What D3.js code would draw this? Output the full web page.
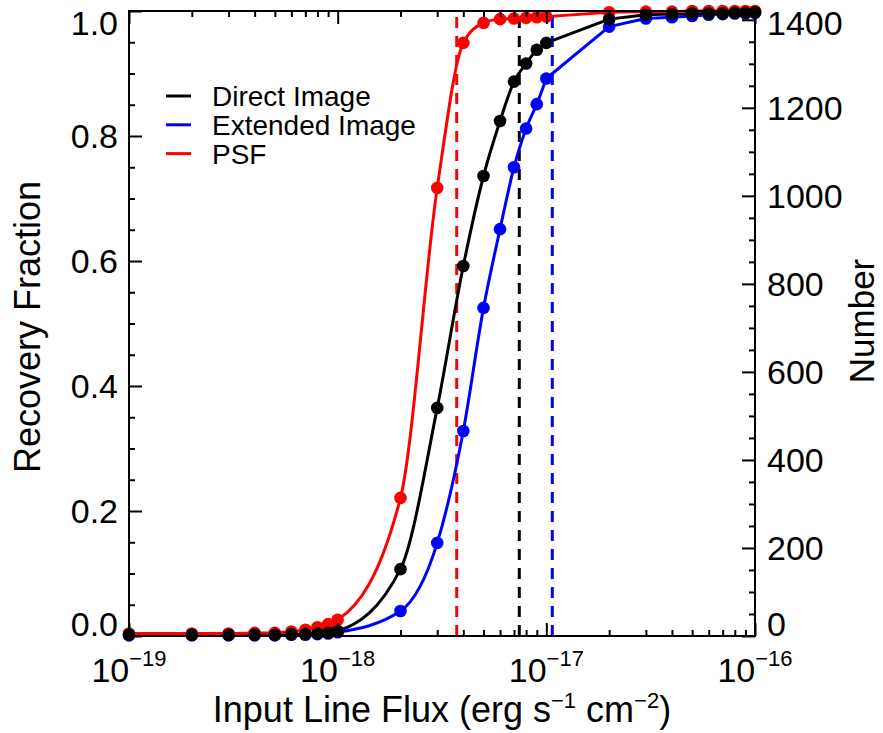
<!DOCTYPE html>
<html>
<head>
<meta charset="utf-8">
<script src="https://cdn.jsdelivr.net/npm/d3@7"></script>
<style>
	body { margin: 0; background: #fff; }
	svg { display: block; }
	text { font-family: "Liberation Sans", Arial, Helvetica, sans-serif; fill: #000; }
</style>
</head>
<body>
<svg id="chart" width="883" height="733"></svg>
<script>
	////////// Data //////////
	const fluxes = [
		1e-19, 2e-19, 3e-19, 4e-19, 5e-19, 6e-19, 7e-19, 8e-19, 9e-19,
		1e-18, 2e-18, 3e-18, 4e-18, 5e-18, 6e-18, 7e-18, 8e-18, 9e-18,
		1e-17, 2e-17, 3e-17, 4e-17, 5e-17, 6e-17, 7e-17, 8e-17, 9e-17,
		1e-16
	];
	const directImage = [
		0.002, 0.002, 0.002, 0.002, 0.002, 0.003, 0.003, 0.004, 0.005,
		0.008, 0.107, 0.365, 0.592, 0.736, 0.824, 0.887, 0.916, 0.938,
		0.949, 0.987, 0.994, 0.995, 0.996, 0.996, 0.996, 0.997, 0.997,
		0.998
	];
	const extendedImage = [
		0.001, 0.001, 0.001, 0.001, 0.001, 0.002, 0.002, 0.003, 0.004,
		0.006, 0.040, 0.149, 0.328, 0.525, 0.651, 0.750, 0.812, 0.851,
		0.892, 0.975, 0.988, 0.990, 0.992, 0.994, 0.995, 0.996, 0.996,
		0.997
	];
	const psf = [
		0.004, 0.004, 0.004, 0.005, 0.005, 0.007, 0.010, 0.014, 0.019,
		0.026, 0.221, 0.717, 0.949, 0.981, 0.987, 0.988, 0.989, 0.990,
		0.991, 0.998, 0.999, 0.999, 1.000, 1.000, 1.000, 1.000, 1.000,
		1.000
	];
	// 90% completeness limits (vertical dashed lines)
	const limitFlux = { psf: 3.72e-18, direct: 7.42e-18, extended: 1.068e-17 };

	const legendNames = ['Direct Image', 'Extended Image', 'PSF'];
	const fracTicks = [0, 0.2, 0.4, 0.6, 0.8, 1.0];
	const numberTicks = [0, 200, 400, 600, 800, 1000, 1200, 1400];
	const decadeTicks = [1e-19, 1e-18, 1e-17, 1e-16];
	const decadeExps = ['\u221219', '\u221218', '\u221217', '\u221216'];

	////////// Layout //////////
	const plot = { left: 129, right: 755, top: 11, bottom: 636 };
	const colors = { direct: '#000000', extended: '#0000ff', psf: '#ff0000' };
	const tickFont = 34, supFont = 22, titleFont = 36, legendFont = 28;
	const majorLen = 13, minorLen = 6;
	const smoothUpTo = 1e-17; // curves look splined below this, straight segments above

	const svg = d3.select('#chart');

	const x = d3.scaleLog().domain([1e-19, 1e-16]).range([plot.left, plot.right]);
	const y = d3.scaleLinear().domain([0, 1]).range([plot.bottom, plot.top]);
	const yNum = d3.scaleLinear().domain([0, 1420]).range([plot.bottom, plot.top]);

	const minorFlux = [];
	decadeTicks.slice(0, 3).forEach(d => { for (let k = 2; k <= 9; k++) minorFlux.push(d * k); });
	const minorFrac = d3.range(0, 1.0001, 0.05).filter(v => Math.abs(v * 5 - Math.round(v * 5)) > 1e-6);
	const minorNum = d3.range(0, 1420, 50).filter(v => v % 200 !== 0);

	// ********************* DASHED LIMIT LINES ********************* //
	const dashes = [
		{ f: limitFlux.psf, c: colors.psf },
		{ f: limitFlux.direct, c: colors.direct },
		{ f: limitFlux.extended, c: colors.extended }
	];
	svg.append('g').attr('class', 'limits')
		.selectAll('line').data(dashes).join('line')
		.attr('x1', d => x(d.f)).attr('x2', d => x(d.f))
		.attr('y1', plot.bottom).attr('y2', plot.top)
		.attr('stroke', d => d.c)
		.attr('stroke-width', 3)
		.attr('stroke-dasharray', '11,8');

	// ********************* CURVES ********************* //
	const smoothLine = d3.line().x(d => x(d[0])).y(d => y(d[1])).curve(d3.curveMonotoneX);
	const straightLine = d3.line().x(d => x(d[0])).y(d => y(d[1]));

	const toPts = vals => fluxes.map((f, i) => [f, vals[i]]);
	const drawLine = (vals, color) => {
		const pts = toPts(vals);
		const g = svg.append('g');
		[smoothLine(pts.filter(p => p[0] <= smoothUpTo * 1.0001)),
		 straightLine(pts.filter(p => p[0] >= smoothUpTo * 0.9999))].forEach(d => {
			g.append('path')
				.attr('d', d)
				.attr('fill', 'none')
				.attr('stroke', color)
				.attr('stroke-width', 3)
				.attr('stroke-linejoin', 'round');
		});
	};
	const drawMarkers = (vals, color) => {
		svg.append('g').selectAll('circle').data(toPts(vals)).join('circle')
			.attr('cx', d => x(d[0]))
			.attr('cy', d => y(d[1]))
			.attr('r', 6.3)
			.attr('fill', color);
	};
	drawLine(extendedImage, colors.extended);
	drawLine(directImage, colors.direct);
	drawLine(psf, colors.psf);
	drawMarkers(extendedImage, colors.extended);
	drawMarkers(psf, colors.psf);
	drawMarkers(directImage, colors.direct);

	// ********************* AXES ********************* //
	const axes = svg.append('g').attr('class', 'axes').attr('stroke-width', 2);

	const tickAxis = (gen, tr) => {
		const g = axes.append('g').attr('transform', tr).call(gen);
		g.select('.domain').remove();
		g.selectAll('line').attr('stroke', '#000').attr('stroke-width', 2);
		g.selectAll('text').remove();
		return g;
	};

	// bottom & top (log flux)
	tickAxis(d3.axisBottom(x).tickValues(decadeTicks).tickSize(-majorLen), `translate(0,${plot.bottom})`);
	tickAxis(d3.axisBottom(x).tickValues(minorFlux).tickSize(-minorLen), `translate(0,${plot.bottom})`);
	tickAxis(d3.axisTop(x).tickValues(decadeTicks).tickSize(-majorLen), `translate(0,${plot.top})`);
	tickAxis(d3.axisTop(x).tickValues(minorFlux).tickSize(-minorLen), `translate(0,${plot.top})`);
	// left (fraction)
	tickAxis(d3.axisLeft(y).tickValues(fracTicks).tickSize(-majorLen), `translate(${plot.left},0)`);
	tickAxis(d3.axisLeft(y).tickValues(minorFrac).tickSize(-minorLen), `translate(${plot.left},0)`);
	// right (number)
	tickAxis(d3.axisRight(yNum).tickValues(numberTicks).tickSize(-majorLen), `translate(${plot.right},0)`);
	tickAxis(d3.axisRight(yNum).tickValues(minorNum).tickSize(-minorLen), `translate(${plot.right},0)`);

	// frame
	axes.append('rect')
		.attr('x', plot.left).attr('y', plot.top)
		.attr('width', plot.right - plot.left).attr('height', plot.bottom - plot.top)
		.attr('fill', 'none').attr('stroke', '#000').attr('stroke-width', 2);

	// ********************* TICK LABELS ********************* //
	const halfCap = tickFont * 0.358;
	const clampY = v => Math.max(plot.top + halfCap, Math.min(plot.bottom - halfCap, v));

	svg.append('g').selectAll('text').data(fracTicks).join('text')
		.attr('x', plot.left - 11)
		.attr('y', d => clampY(y(d)) + halfCap)
		.attr('text-anchor', 'end')
		.style('font-size', tickFont + 'px')
		.text(d => d.toFixed(1));

	svg.append('g').selectAll('text').data(numberTicks).join('text')
		.attr('x', plot.right + 12)
		.attr('y', d => clampY(yNum(d)) + halfCap)
		.attr('text-anchor', 'start')
		.style('font-size', tickFont + 'px')
		.text(d => d);

	const xl = svg.append('g').selectAll('text').data(decadeTicks).join('text')
		.attr('x', d => x(d))
		.attr('y', 682)
		.attr('text-anchor', 'middle')
		.style('font-size', tickFont + 'px');
	xl.append('tspan').text('10');
	xl.append('tspan')
		.attr('dy', -16)
		.style('font-size', supFont + 'px')
		.text((d, i) => decadeExps[i]);

	// ********************* TITLES ********************* //
	const xt = svg.append('text')
		.attr('x', (plot.left + plot.right) / 2)
		.attr('y', 722)
		.attr('text-anchor', 'middle')
		.style('font-size', titleFont + 'px');
	xt.append('tspan').text('Input Line Flux (erg s');
	xt.append('tspan').attr('dy', -14).style('font-size', supFont + 'px').text('\u22121');
	xt.append('tspan').attr('dy', 14).text(' cm');
	xt.append('tspan').attr('dy', -14).style('font-size', supFont + 'px').text('\u22122');
	xt.append('tspan').attr('dy', 14).text(')');

	svg.append('text')
		.attr('transform', 'translate(40,327) rotate(-90)')
		.attr('text-anchor', 'middle')
		.style('font-size', titleFont + 'px')
		.text('Recovery Fraction');

	svg.append('text')
		.attr('transform', 'translate(874,321) rotate(-90)')
		.attr('text-anchor', 'middle')
		.style('font-size', '35px')
		.text('Number');

	// ********************* LEGEND ********************* //
	const legendColors = [colors.direct, colors.extended, colors.psf];
	const leg = svg.append('g').attr('class', 'legend')
		.selectAll('g').data(legendNames).join('g')
		.attr('transform', (d, i) => `translate(166,${96 + i * 28.8})`);
	leg.append('line')
		.attr('x1', 0).attr('x2', 25)
		.attr('stroke', (d, i) => legendColors[i])
		.attr('stroke-width', 3);
	leg.append('text')
		.attr('x', 46).attr('y', 10)
		.style('font-size', legendFont + 'px')
		.text(d => d);
</script>
</body>
</html>
